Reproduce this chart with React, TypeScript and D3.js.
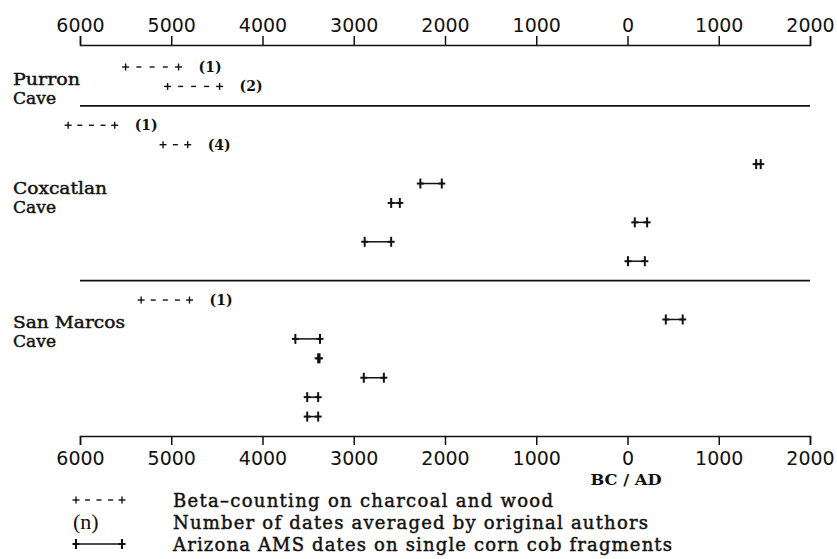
import React, { useEffect, useRef } from "react";
import * as d3 from "d3";

const width = 837;
const height = 559;
const margin = { top: 45, right: 27, bottom: 123, left: 80 };

// years, negative = BC
const tickYears = d3.range(-6000, 2001, 1000);

const caveNames = [
  ["Purron", "Cave"],
  ["Coxcatlan", "Cave"],
  ["San Marcos", "Cave"],
];

// [from, to, method, number of dates averaged]
const purronDates = [
  [-5500, -4920, "beta", 1],
  [-5040, -4470, "beta", 2],
];
const coxcatlanDates = [
  [-6130, -5620, "beta", 1],
  [-5090, -4820, "beta", 4],
  [1410, 1460, "ams", null],
  [-2270, -2035, "ams", null],
  [-2590, -2495, "ams", null],
  [80, 215, "ams", null],
  [-2880, -2590, "ams", null],
  [5, 190, "ams", null],
];
const sanMarcosDates = [
  [-5330, -4800, "beta", 1],
  [420, 605, "ams", null],
  [-3640, -3370, "ams", null],
  [-3390, -3375, "ams", null],
  [-2890, -2670, "ams", null],
  [-3510, -3390, "ams", null],
  [-3510, -3390, "ams", null],
];

const legendItems = [
  "Beta\u2013counting on charcoal and wood",
  "Number of dates averaged by original authors",
  "Arizona AMS dates on single corn cob fragments",
];

const ink = "#111";
const serif = "'DejaVu Serif', 'Liberation Serif', serif";
const sans = "'DejaVu Sans', sans-serif";

// where the cave name sits, in row units from the cave's first row
const labelRowOffset = [0.45, 3.1, 1.0];
const labelWidths = [[67, 43], [94, 43], [112, 43]];
const legendWidths = [380, 475, 499];

const Plus = ({ x, y, h, v, sw }) => (
  <g stroke={ink} strokeWidth={sw}>
    <line x1={x - h} x2={x + h} y1={y} y2={y} />
    <line x1={x} x2={x} y1={y - v} y2={y + v} />
  </g>
);

const BetaMark = ({ x1, x2, y }) => {
  const span = x2 - x1;
  const n = Math.max(1, Math.round(span / 13) - 1);
  const dashes = d3.range(n).map((i) => x1 + (span * (i + 1)) / (n + 1));
  return (
    <g>
      <Plus x={x1} y={y} h={3.5} v={3.5} sw={1.4} />
      <Plus x={x2} y={y} h={3.5} v={3.5} sw={1.4} />
      {dashes.map((dx, i) => (
        <line key={i} x1={dx - 2.5} x2={dx + 2.5} y1={y} y2={y} stroke={ink} strokeWidth={1.4} />
      ))}
    </g>
  );
};

const AmsMark = ({ x1, x2, y }) => (
  <g>
    <line x1={x1} x2={x2} y1={y} y2={y} stroke={ink} strokeWidth={1.5} />
    <Plus x={x1} y={y} h={3.5} v={5} sw={2} />
    <Plus x={x2} y={y} h={3.5} v={5} sw={2} />
  </g>
);

const App = () => {
  const topRef = useRef(null);
  const bottomRef = useRef(null);

  const x = d3
    .scaleLinear()
    .domain([-6000, 2000])
    .range([margin.left, width - margin.right]);

  // lay out rows: each cave's dates, then a separator row
  const groups = [purronDates, coxcatlanDates, sanMarcosDates];
  const rows = [];
  const separators = [];
  const labelRows = [];
  let slot = 0;
  groups.forEach((dates, gi) => {
    labelRows.push(slot + labelRowOffset[gi]);
    dates.forEach((d) => {
      rows.push({ slot, from: d[0], to: d[1], method: d[2], n: d[3] });
      slot += 1;
    });
    separators.push(slot);
    slot += 1;
  });
  const axisSlot = separators.pop();

  const y = d3.scaleLinear().domain([0, axisSlot]).range([67, height - margin.bottom]);

  useEffect(() => {
    const fmt = (d) => String(Math.abs(d));
    const style = (sel) => {
      sel.selectAll("path, line").attr("stroke", ink).attr("stroke-width", 1.5);
      sel.selectAll("text").attr("fill", ink).attr("font-family", sans).attr("font-size", 19);
      sel.attr("font-family", null).attr("font-size", null);
    };
    const top = d3
      .axisTop(x)
      .tickValues(tickYears)
      .tickSize(9)
      .tickSizeOuter(9)
      .tickPadding(4)
      .tickFormat(fmt);
    const bottom = d3
      .axisBottom(x)
      .tickValues(tickYears)
      .tickSize(9)
      .tickSizeOuter(9)
      .tickPadding(6.5)
      .tickFormat(fmt);
    d3.select(topRef.current).call(top).call(style);
    d3.select(bottomRef.current).call(bottom).call(style);
  }, []);

  const legendX = 73;
  const legendTextX = 173;
  const legendY = [503, 525, 547];

  // slightly heavier than regular, like the photocopied original
  const thicken = { stroke: ink, strokeWidth: 0.45 };

  return (
    <svg
      width={width}
      height={height}
      style={{ position: "absolute", left: 0, top: 0, background: "#fff" }}
    >
      <g ref={topRef} transform={`translate(0,${margin.top})`} />
      <g ref={bottomRef} transform={`translate(0,${y(axisSlot)})`} />

      {separators.map((s) => (
        <line key={s} x1={x(-6000)} x2={x(2000)} y1={y(s)} y2={y(s)} stroke={ink} strokeWidth={1.8} />
      ))}

      {caveNames.map((lines, i) =>
        lines.map((t, j) => (
          <text
            key={`${i}-${j}`}
            x={13}
            y={y(labelRows[i]) + 9 + j * 19}
            fontFamily={serif}
            fontSize={17}
            textLength={labelWidths[i][j]}
            lengthAdjust="spacingAndGlyphs"
            fill={ink}
            {...thicken}
          >
            {t}
          </text>
        ))
      )}

      {rows.map((r, i) =>
        r.method === "beta" ? (
          <g key={i}>
            <BetaMark x1={x(r.from)} x2={x(r.to)} y={y(r.slot)} />
            <text
              x={x(r.to) + 20}
              y={y(r.slot) + 5}
              fontFamily={serif}
              fontWeight="bold"
              fontSize={14}
              fill={ink}
            >
              ({r.n})
            </text>
          </g>
        ) : (
          <AmsMark key={i} x1={x(r.from)} x2={x(r.to)} y={y(r.slot)} />
        )
      )}

      <text
        x={x(0) - 37}
        y={485}
        fontFamily={serif}
        fontWeight="bold"
        fontSize={14}
        textLength={71}
        lengthAdjust="spacingAndGlyphs"
        fill={ink}
      >
        BC / AD
      </text>

      <BetaMark x1={legendX + 3} x2={legendX + 49} y={legendY[0] - 3} />
      <text x={legendX} y={legendY[1] + 4} fontFamily="'Liberation Serif', serif" fontSize={22} fill={ink}>
        (n)
      </text>
      <AmsMark x1={legendX + 3} x2={legendX + 49} y={legendY[2] - 3} />

      {legendItems.map((t, i) => (
        <text
          key={i}
          x={legendTextX}
          y={legendY[i] + 4}
          fontFamily={serif}
          fontSize={18}
          textLength={legendWidths[i]}
          lengthAdjust="spacing"
          fill={ink}
          {...thicken}
        >
          {t}
        </text>
      ))}
    </svg>
  );
};

export default App;
